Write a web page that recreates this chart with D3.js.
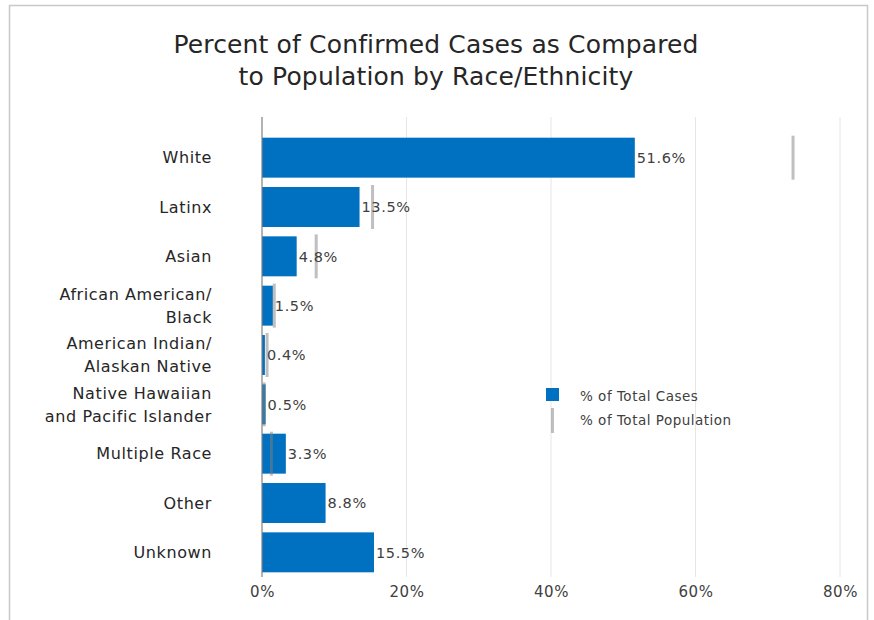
<!DOCTYPE html>
<html>
<head>
<meta charset="utf-8">
<script src="https://cdn.jsdelivr.net/npm/d3@7"></script>
<style>
  html, body { margin: 0; padding: 0; background: #fff; }
  svg { display: block; }
  text { font-family: "Century Gothic", "DejaVu Sans", sans-serif; }
</style>
</head>
<body>
<svg id="chart" width="874" height="620"></svg>
<script>
// Race/ethnicity groups (label lines) and the two series, in percent
const categories = [
  ["White"],
  ["Latinx"],
  ["Asian"],
  ["African American/", "Black"],
  ["American Indian/", "Alaskan Native"],
  ["Native Hawaiian", "and Pacific Islander"],
  ["Multiple Race"],
  ["Other"],
  ["Unknown"]
];
const casesPct = [51.6, 13.5, 4.8, 1.5, 0.4, 0.5, 3.3, 8.8, 15.5];
const populationPct = [73.5, 15.3, 7.5, 1.7, 0.7, 0.3, 1.3, null, null];
const xTicks = [0, 20, 40, 60, 80];
const titleLines = ["Percent of Confirmed Cases as Compared", "to Population by Race/Ethnicity"];
const legendLabels = ["% of Total Cases", "% of Total Population"];

const FONT = "\"Century Gothic\", \"DejaVu Sans\", sans-serif";
const svg = d3.select("#chart");
const W = 874, H = 620;
const margin = { left: 262, right: 34, top: 133, bottom: 43 };

// outer frame
svg.append("rect")
  .attr("x", 9.5).attr("y", 5.5)
  .attr("width", 858).attr("height", 630)
  .attr("fill", "#fff").attr("stroke", "#c8c8c8").attr("stroke-width", 1.5);

// title
svg.append("g").selectAll("text").data(titleLines).join("text")
  .attr("x", 436).attr("y", (d, i) => 53 + i * 32)
  .attr("text-anchor", "middle")
  .attr("font-size", 25)
  .attr("letter-spacing", 0.15)
  .attr("fill", "#262626")
  .text(d => d);

const x = d3.scaleLinear().domain([0, 80]).range([margin.left, W - margin.right]);
const y = d3.scaleBand()
  .domain(d3.range(categories.length))
  .range([margin.top, H - margin.bottom])
  .paddingInner(0.19).paddingOuter(0.095);

// vertical gridlines
svg.append("g").selectAll("line").data(xTicks.slice(1)).join("line")
  .attr("x1", d => x(d)).attr("x2", d => x(d))
  .attr("y1", 117).attr("y2", H - margin.bottom)
  .attr("stroke", "#e6e6e6").attr("stroke-width", 1);

// x axis tick labels
const xAxis = d3.axisBottom(x).tickValues(xTicks).tickFormat(d => d + "%").tickSize(0).tickPadding(9);
const gx = svg.append("g").attr("transform", `translate(0,${H - margin.bottom})`).call(xAxis);
gx.select(".domain").remove();
gx.selectAll("text")
  .attr("font-family", FONT)
  .attr("letter-spacing", 0.5)
  .attr("font-size", 15).attr("fill", "#404040");

// case bars
svg.append("g").selectAll("rect").data(casesPct).join("rect")
  .attr("x", x(0))
  .attr("y", (d, i) => y(i))
  .attr("width", d => x(d) - x(0))
  .attr("height", y.bandwidth())
  .attr("fill", "#0070c0");

// population markers
const markerExtra = 2;
svg.append("g").selectAll("line")
  .data(populationPct.map((v, i) => ({ v, i })).filter(d => d.v != null))
  .join("line")
  .attr("x1", d => x(d.v)).attr("x2", d => x(d.v))
  .attr("y1", d => y(d.i) - markerExtra)
  .attr("y2", d => y(d.i) + y.bandwidth() + markerExtra)
  .attr("stroke", "#7f7f7f").attr("stroke-opacity", 0.5).attr("stroke-width", 3);

// value labels
svg.append("g").selectAll("text").data(casesPct).join("text")
  .attr("x", d => x(d) + 2)
  .attr("y", (d, i) => y(i) + y.bandwidth() / 2)
  .attr("dy", "0.36em")
  .attr("font-size", 14.5)
  .attr("letter-spacing", 0.6)
  .attr("fill", "#404040")
  .text(d => d.toFixed(1) + "%");

// y axis line
svg.append("line")
  .attr("x1", x(0)).attr("x2", x(0))
  .attr("y1", 117).attr("y2", H - margin.bottom)
  .attr("stroke", "#808080").attr("stroke-width", 1.2);

// category labels
const catG = svg.append("g").selectAll("text").data(categories).join("text")
  .attr("x", 212)
  .attr("y", (d, i) => y(i) + y.bandwidth() / 2)
  .attr("text-anchor", "end")
  .attr("font-size", 16)
  .attr("letter-spacing", 0.6)
  .attr("fill", "#262626");
catG.selectAll("tspan").data(d => d.map((line, j) => ({ line, j, n: d.length }))).join("tspan")
  .attr("x", 212)
  .attr("dy", d => d.j === 0 ? ((d.n === 1 ? 0.36 : 0.36 - 0.72) + "em") : "1.44em")
  .text(d => d.line);

// legend
const lg = svg.append("g").attr("transform", "translate(546,388)");
lg.append("rect").attr("x", 0).attr("y", 0).attr("width", 13).attr("height", 13).attr("fill", "#0070c0");
lg.append("line").attr("x1", 6.5).attr("x2", 6.5).attr("y1", 20).attr("y2", 45)
  .attr("stroke", "#7f7f7f").attr("stroke-opacity", 0.5).attr("stroke-width", 3);
lg.selectAll("text").data(legendLabels).join("text")
  .attr("x", 34).attr("y", (d, i) => 8 + i * 24)
  .attr("dy", "0.35em")
  .attr("font-size", 13.5)
  .attr("letter-spacing", 0.5)
  .attr("fill", "#404040")
  .text(d => d);
</script>
</body>
</html>
